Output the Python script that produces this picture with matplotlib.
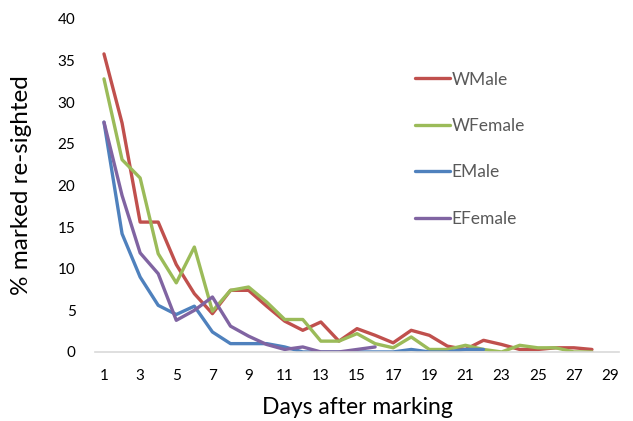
import numpy as np
import matplotlib
matplotlib.use('Agg')
import matplotlib.pyplot as plt

# Days after marking
days_w = list(range(1, 29))
days_em = list(range(1, 23))
days_ef = list(range(1, 17))

# % marked re-sighted
wmale = [35.8, 27.5, 15.6, 15.6, 10.5, 7.0, 4.6, 7.4, 7.4, 5.5, 3.7, 2.6, 3.6, 1.3,
         2.8, 2.0, 1.1, 2.6, 2.0, 0.7, 0.3, 1.4, 0.9, 0.3, 0.3, 0.5, 0.5, 0.3]
wfemale = [32.8, 23.1, 20.9, 11.8, 8.3, 12.6, 4.9, 7.4, 7.8, 6.0, 3.9, 3.9, 1.3, 1.3,
           2.2, 1.0, 0.5, 1.8, 0.3, 0.3, 0.8, 0.3, 0.0, 0.8, 0.5, 0.5, 0.0, 0.0]
emale = [27.6, 14.2, 9.0, 5.6, 4.5, 5.5, 2.4, 1.0, 1.0, 1.0, 0.6, 0.0, 0.0, 0.0,
         0.0, 0.0, 0.0, 0.3, 0.0, 0.0, 0.3, 0.3]
efemale = [27.6, 18.8, 11.9, 9.4, 3.8, 5.0, 6.6, 3.1, 1.9, 0.9, 0.3, 0.6, 0.0, 0.0,
           0.3, 0.6]

xticks = list(range(1, 30, 2))
yticks = list(range(0, 41, 5))

plt.rcParams['font.family'] = ['Lato', 'DejaVu Sans']

fig = plt.figure(figsize=(6.33, 4.21), dpi=100)
ax = fig.add_axes([0.150, 0.164, 0.828, 0.791])

lw = 2.4
ax.plot(days_w, wmale, color='#C0504D', lw=lw, label='WMale', solid_capstyle='round')
ax.plot(days_w, wfemale, color='#9BBB59', lw=lw, label='WFemale', solid_capstyle='round')
ax.plot(days_em, emale, color='#4F81BD', lw=lw, label='EMale', solid_capstyle='round')
ax.plot(days_ef, efemale, color='#8064A2', lw=lw, label='EFemale', solid_capstyle='round')

ax.set_xlim(0.5, 29.5)
ax.set_ylim(0, 40)
ax.set_xticks(xticks)
ax.set_yticks(yticks)
ax.tick_params(length=0, labelsize=11, labelcolor='#000000', pad=12)
ax.tick_params(axis='y', pad=14)

for s in ['top', 'right', 'left']:
    ax.spines[s].set_visible(False)
ax.spines['bottom'].set_color('#D9D9D9')
ax.spines['bottom'].set_linewidth(1.2)

ax.set_xlabel('Days after marking', fontsize=16.5)
ax.set_ylabel('% marked re-sighted', fontsize=17.5)
ax.xaxis.set_label_coords(0.5, -0.135)
ax.yaxis.set_label_coords(-0.12, 0.5)

leg = ax.legend(loc='upper left', bbox_to_anchor=(0.611, 0.842), frameon=False,
                fontsize=12.5, labelspacing=1.75, handlelength=2.0, handletextpad=0.1,
                borderpad=0, borderaxespad=0)
for t in leg.get_texts():
    t.set_color('#595959')

fig.savefig('out.png', dpi=100)
